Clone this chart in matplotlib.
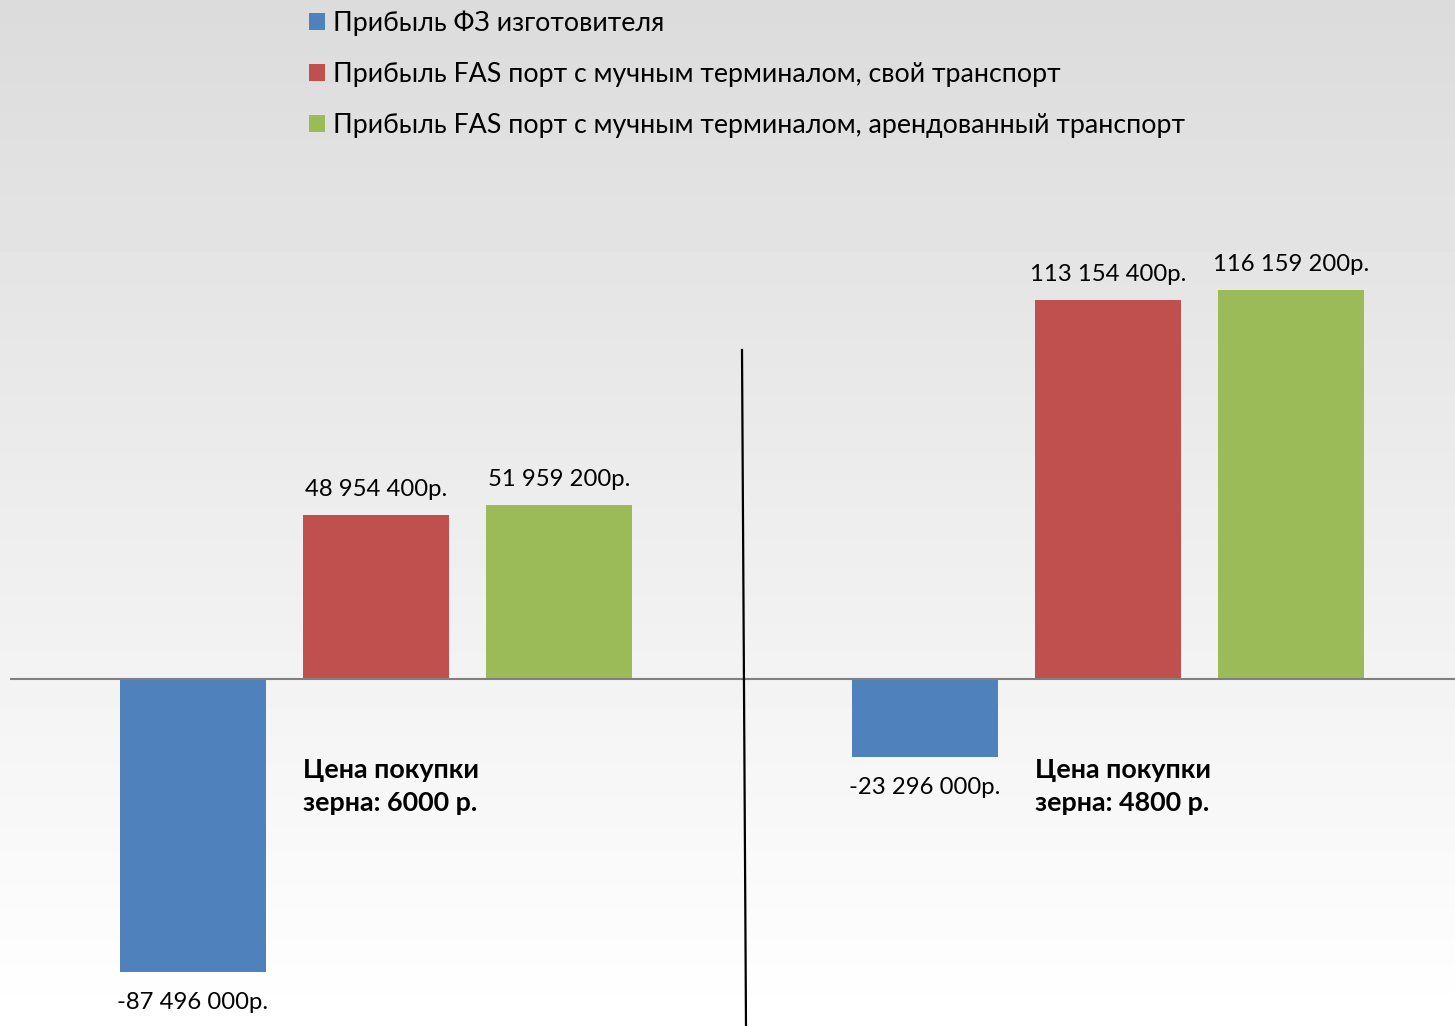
import numpy as np
import matplotlib.pyplot as plt
from matplotlib.lines import Line2D

plt.rcParams["font.family"] = ["Lato", "Open Sans", "DejaVu Sans"]

groups = ["Цена покупки\nзерна: 6000 р.", "Цена покупки\nзерна: 4800 р."]
series = [
    "Прибыль ФЗ изготовителя",
    "Прибыль FAS порт с мучным терминалом, свой транспорт",
    "Прибыль FAS порт с мучным терминалом, арендованный транспорт",
]
profit_fz = [-87496000, -23296000]
profit_fas_own = [48954400, 113154400]
profit_fas_rent = [51959200, 116159200]
colors = ["#4F81BD", "#C0504D", "#9BBB59"]


def rub(v):
    return f"{v:,.0f}".replace(",", " ") + "р."


fig = plt.figure(figsize=(14.55, 10.26), dpi=100)

# soft grey-to-white background
bg = fig.add_axes([0, 0, 1, 1], zorder=0)
grad = np.linspace(0.86, 1.0, 256).reshape(-1, 1)
bg.imshow(grad, aspect="auto", cmap="gray", vmin=0, vmax=1, extent=[0, 1, 0, 1])
bg.axis("off")

W, H = 1455, 1026
ax = fig.add_axes([10 / W, 0, 1464 / W, 1], zorder=1)
ax.patch.set_alpha(0)

x = np.arange(len(groups))
width = 0.2
step = 0.25
values = [profit_fz, profit_fas_own, profit_fas_rent]
handles = []
for i, (vals, name, c) in enumerate(zip(values, series, colors)):
    pos = x + (i - 1) * step
    b = ax.bar(pos, vals, width, color=c, label=name, zorder=2)
    handles.append(b)
    for p, v in zip(pos, vals):
        off = 4.5e6 if v > 0 else -6e6
        ax.text(p, v + off, rub(v), ha="center",
                va="bottom" if v > 0 else "top", fontsize=17.2)

ax.set_xlim(-0.5, 1.5)
ax.set_ylim(-103.6e6, 202.7e6)
ax.axhline(0, color="#808080", lw=1.5, zorder=3)
for s in ax.spines.values():
    s.set_visible(False)
ax.set_xticks([])
ax.set_yticks([])

# group captions next to the blue bars
for xi, g in zip(x, groups):
    ax.text(xi - 0.1, -32e6, g, ha="left", va="center", fontsize=19.4,
            fontweight="bold", linespacing=1.45)

# divider between the two price scenarios
fig.add_artist(Line2D([742 / W, 746 / W], [1 - 350 / H, 0], color="black",
                      lw=1.6, zorder=4))

ax.legend(handles=handles, loc="upper left", bbox_to_anchor=(298 / W, 1.0),
          bbox_transform=fig.transFigure, frameon=False, fontsize=19.3,
          handlelength=0.62, handleheight=0.62, handletextpad=0.3,
          labelspacing=0.97, borderaxespad=0)

fig.savefig("out.png", dpi=100)
